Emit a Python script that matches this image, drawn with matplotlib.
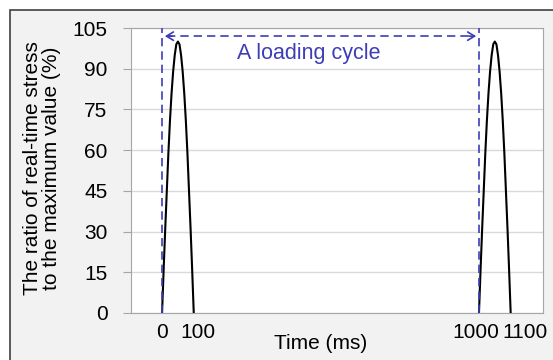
import numpy as np
import matplotlib.pyplot as plt
import matplotlib.transforms as mtransforms
from matplotlib.patches import Rectangle

plt.rcParams['font.family'] = ['Liberation Sans', 'DejaVu Sans']

# one stress pulse, repeated at each cycle start
pulse_t = np.array([0, 5, 10, 15, 20, 25, 30, 35, 40, 45, 50,
                    55, 60, 65, 70, 75, 80, 85, 90, 95, 100])
pulse_ratio = np.array([0, 16, 31, 45, 59, 71, 81, 89, 95, 99, 100,
                        99, 95, 89, 81, 71, 59, 45, 31, 16, 0])
cycle_starts = [0, 1000]

x_ticks = [0, 100, 1000, 1100]
y_ticks = [0, 15, 30, 45, 60, 75, 90, 105]
arrow_y = 102
cycle_label = "A loading cycle"

blue = '#3d3db8'
grid_c = '#d9d9d9'
spine_c = '#a6a6a6'

fig = plt.figure(figsize=(5.53, 3.6), dpi=100)
fig.patch.set_facecolor('white')
# outer chart frame
frame = Rectangle((10/553, -0.1), 1.2, (360-10)/360 + 0.1,
                  transform=fig.transFigure, facecolor='#f2f2f2',
                  edgecolor='#404040', linewidth=1.2, zorder=-10)
fig.add_artist(frame)

ax = fig.add_axes([131/553, 1-313/360, (543-131)/553, (313-28)/360])
ax.set_facecolor('white')

for s in cycle_starts:
    ax.plot(pulse_t + s, pulse_ratio, color='black', lw=1.5, zorder=3)

# loading cycle markers
ax.plot([cycle_starts[0]]*2, [0, 105], ls=(0, (5, 3)), color=blue, lw=1.2, zorder=4)
ax.plot([cycle_starts[1]]*2, [0, 105], ls=(0, (5, 3)), color=blue, lw=1.2, zorder=4)
ax.plot([cycle_starts[0] + 15, cycle_starts[1] - 15], [arrow_y, arrow_y],
        ls=(0, (5, 3)), color=blue, lw=1.2, zorder=4)
ax.annotate('', xy=(cycle_starts[0], arrow_y), xytext=(cycle_starts[0] + 40, arrow_y),
            arrowprops=dict(arrowstyle='->,head_length=0.5,head_width=0.3', color=blue, lw=1.2))
ax.annotate('', xy=(cycle_starts[1], arrow_y), xytext=(cycle_starts[1] - 40, arrow_y),
            arrowprops=dict(arrowstyle='->,head_length=0.5,head_width=0.3', color=blue, lw=1.2))
ax.text(np.mean(cycle_starts) - 37, 95.5, cycle_label, color=blue, fontsize=15.5,
        ha='center', va='center')

ax.set_xlim(-98, 1202)
ax.set_ylim(0, 105)
ax.set_yticks(y_ticks)
ax.set_xticks(x_ticks)
ax.yaxis.grid(True, color=grid_c, lw=1)
ax.set_axisbelow(True)
for sp in ax.spines.values():
    sp.set_color(spine_c)
ax.tick_params(axis='y', length=6, color=spine_c, pad=11, labelsize=15)
ax.tick_params(axis='x', length=0, pad=7, labelsize=15)

# shift crowded x tick labels like the original
offsets = [0, 4, -3, 14]
for lab, dx in zip(ax.get_xticklabels(), offsets):
    lab.set_transform(lab.get_transform() + mtransforms.ScaledTranslation(dx/100, 0, fig.dpi_scale_trans))

ax.set_xlabel('Time (ms)', fontsize=15)
ax.xaxis.set_label_coords((321-131)/(543-131), -(342-313)/(313-28) - 0.005, transform=ax.transAxes)
ax.xaxis.label.set_va('center')
ax.set_ylabel('The ratio of real-time stress\nto the maximum value (%)', fontsize=15,
              linespacing=0.95)
ax.yaxis.set_label_coords(-(131-42)/(543-131), (313-168)/(313-28))
ax.yaxis.label.set_va('center')

fig.savefig('out.png', dpi=100, facecolor=fig.get_facecolor())
